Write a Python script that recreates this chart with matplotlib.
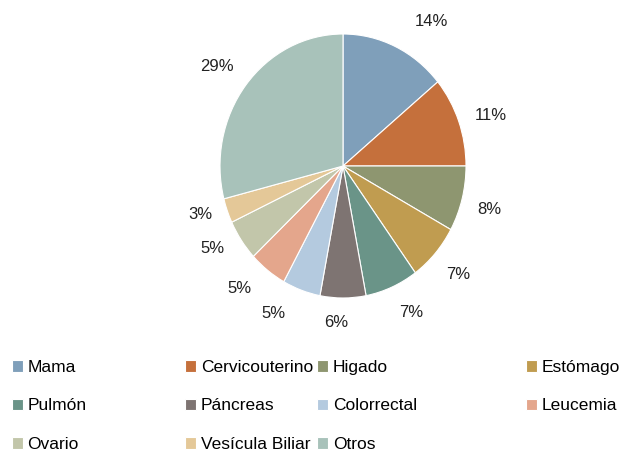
import matplotlib.pyplot as plt

# data
categories = ['Mama', 'Cervicouterino', 'Higado', 'Estómago', 'Pulmón', 'Páncreas',
              'Colorrectal', 'Leucemia', 'Ovario', 'Vesícula Biliar', 'Otros']
values = [14, 11, 8, 7, 7, 6, 5, 5, 5, 3, 29]
colors = ['#7F9FBA', '#C5703C', '#8E9670', '#C09C50', '#6A9488', '#7E7472',
          '#B4CADF', '#E4A68C', '#C2C6AA', '#E4C898', '#A8C2BA']

plt.rcParams['font.family'] = ['Liberation Sans', 'DejaVu Sans']

fig = plt.figure(figsize=(6.34, 4.53), dpi=100)
# pie area: centre (343,166) px, radii 123 x 132 px
ax = fig.add_axes([(343 - 123) / 634, 1 - (166 + 132) / 453, 246 / 634, 264 / 453])
wedges, texts, pcts = ax.pie(values, colors=colors, startangle=90, counterclock=False,
                             autopct='%1.0f%%', pctdistance=1.23,
                             wedgeprops=dict(linewidth=0.8, edgecolor='white'),
                             textprops=dict(fontsize=12, color='#222222'))
ax.set_aspect('auto')
ax.set_xlim(-1, 1)
ax.set_ylim(-1, 1)

# nudge the percentage labels a little (in points) like the original layout
nudge = [(17, -2), (4, -3), (0, -2), (1, -1), (6, 2), (-5, 4),
         (-13, 4), (-8, 4), (-4, 6), (0, 5), (-5, 0)]
for t, (dx, dy) in zip(pcts, nudge):
    t.set_transform(t.get_transform() + plt.matplotlib.transforms.ScaledTranslation(
        dx / 72, dy / 72, fig.dpi_scale_trans))

# legend, row-major across four columns
col_x = [12 / 634, 185 / 634, 317 / 634, 526 / 634]
for j in range(4):
    fig.legend(wedges[j::4], categories[j::4], loc='upper left',
               bbox_to_anchor=(col_x[j], 1 - 360 / 453),
               frameon=False, fontsize=12.5, handlelength=0.65, handleheight=0.65,
               handletextpad=0.25, labelspacing=1.35, borderpad=0,
               borderaxespad=0)

fig.savefig('out.png', dpi=100)
